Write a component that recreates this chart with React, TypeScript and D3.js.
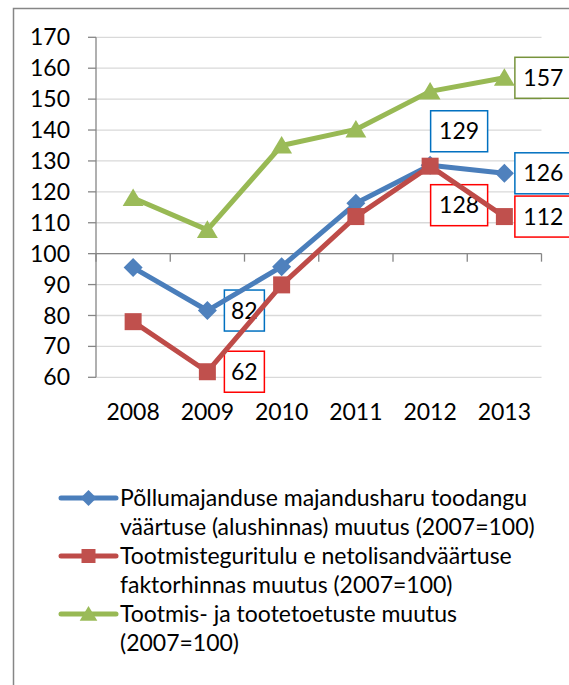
import React, { useEffect, useRef } from 'react';
import * as d3 from 'd3';

const years = ['2008', '2009', '2010', '2011', '2012', '2013'];
const yTicks = [60, 70, 80, 90, 100, 110, 120, 130, 140, 150, 160, 170];

const outputValue = [95.5, 81.6, 95.8, 116.3, 128.6, 126];
const factorIncome = [78, 61.8, 89.9, 112, 128.3, 112];
const subsidies = [118, 107.7, 135, 140.2, 152.5, 156.9];

const legendLines = [
    ['Põllumajanduse majandusharu toodangu', 'väärtuse (alushinnas) muutus (2007=100)'],
    ['Tootmisteguritulu e netolisandväärtuse', 'faktorhinnas muutus (2007=100)'],
    ['Tootmis- ja tootetoetuste muutus', '(2007=100)'],
];

// which points get a boxed value label: series index, year index, offset of box centre
const pointLabels = [
    { s: 0, i: 1, dx: 37, dy: 0 },
    { s: 1, i: 1, dx: 37, dy: 0 },
    { s: 0, i: 4, dx: 29, dy: -34 },
    { s: 1, i: 4, dx: 29, dy: 39 },
    { s: 0, i: 5, dx: 39, dy: 0 },
    { s: 1, i: 5, dx: 39, dy: 0 },
    { s: 2, i: 5, dx: 39, dy: 0 },
];

const series = [
    { values: outputValue, line: '#4A7EBB', fill: '#4F81BD', marker: 'diamond', box: '#0070C0' },
    { values: factorIncome, line: '#BE4B48', fill: '#C0504D', marker: 'square', box: '#FF0000' },
    { values: subsidies, line: '#98B954', fill: '#9BBB59', marker: 'triangle', box: '#77933C' },
];

const FONT = 'Lato, "Open Sans", sans-serif';

function markerPath(type: string, r: number) {
    if (type === 'diamond') return `M0,${-r}L${r},0L0,${r}L${-r},0Z`;
    if (type === 'square') return `M${-r},${-r}H${r}V${r}H${-r}Z`;
    return `M0,${-r}L${r * 1.1},${r * 0.85}H${-r * 1.1}Z`;
}

export default function App() {
    const svgRef = useRef<SVGSVGElement>(null);

    useEffect(() => {
        const svg = d3.select(svgRef.current);
        svg.selectAll('*').remove();

        const x = d3.scaleBand().domain(years).range([96, 541.5]);
        const y = d3.scaleLinear().domain([60, 170]).range([377.3, 37.3]);
        const cx = (i: number) => (x(years[i]) as number) + x.bandwidth() / 2;

        svg.append('rect').attr('width', 569).attr('height', 685).attr('fill', '#fff');
        svg.append('rect')
            .attr('x', 13.5).attr('y', 8.5).attr('width', 700).attr('height', 800)
            .attr('fill', 'none').attr('stroke', '#868686').attr('stroke-width', 1.5);

        // gridlines
        svg.append('g').selectAll('line').data(yTicks).enter().append('line')
            .attr('x1', 96).attr('x2', 541.5)
            .attr('y1', (d) => y(d)).attr('y2', (d) => y(d))
            .attr('stroke', '#D9D9D9').attr('stroke-width', 1.3);

        // y axis
        const ya = svg.append('g');
        ya.append('line').attr('x1', 96).attr('x2', 96).attr('y1', y(170)).attr('y2', y(60))
            .attr('stroke', '#868686').attr('stroke-width', 1.3);
        ya.selectAll('.tk').data(yTicks).enter().append('line')
            .attr('x1', 88).attr('x2', 96).attr('y1', (d) => y(d)).attr('y2', (d) => y(d))
            .attr('stroke', '#868686').attr('stroke-width', 1.3);
        ya.selectAll('text').data(yTicks).enter().append('text')
            .attr('x', 70).attr('y', (d) => y(d)).attr('dy', '0.35em')
            .attr('text-anchor', 'end')
            .style('font-family', FONT).style('font-size', '23px')
            .text((d) => d);

        // x axis crosses at 100
        const xa = svg.append('g');
        xa.append('line').attr('x1', 96).attr('x2', 541.5).attr('y1', y(100)).attr('y2', y(100))
            .attr('stroke', '#868686').attr('stroke-width', 1.3);
        const bounds = years.map((yr) => x(yr) as number).concat([541.5]);
        xa.selectAll('.tk').data(bounds).enter().append('line')
            .attr('x1', (d) => d).attr('x2', (d) => d)
            .attr('y1', y(100)).attr('y2', y(100) + 8)
            .attr('stroke', '#868686').attr('stroke-width', 1.3);
        xa.selectAll('text').data(years).enter().append('text')
            .attr('x', (d, i) => cx(i)).attr('y', 412).attr('dy', '0.35em')
            .attr('text-anchor', 'middle')
            .style('font-family', FONT).style('font-size', '23px')
            .text((d) => d);

        // value labels (the lines run over them in the original)
        pointLabels.forEach((p) => {
            const s = series[p.s];
            const v = s.values[p.i];
            const txt = String(Math.round(v));
            const w = txt.length === 2 ? 40 : 57;
            const bx = cx(p.i) + p.dx;
            const by = y(v) + p.dy;
            svg.append('rect')
                .attr('x', bx - w / 2).attr('y', by - 20.5).attr('width', w).attr('height', 41)
                .attr('fill', '#fff').attr('stroke', s.box).attr('stroke-width', 1.5);
            svg.append('text')
                .attr('x', bx).attr('y', by).attr('dy', '0.35em').attr('text-anchor', 'middle')
                .style('font-family', FONT).style('font-size', '23px')
                .text(txt);
        });

        // series
        const line = d3.line<number>().x((d, i) => cx(i)).y((d) => y(d));
        series.forEach((s) => {
            svg.append('path').attr('d', line(s.values))
                .attr('fill', 'none').attr('stroke', s.line).attr('stroke-width', 5)
                .attr('stroke-linejoin', 'round');
            svg.append('g').selectAll('path').data(s.values).enter().append('path')
                .attr('transform', (d, i) => `translate(${cx(i)},${y(d)})`)
                .attr('d', markerPath(s.marker, s.marker === 'square' ? 8.5 : 9.5))
                .attr('fill', s.fill);
        });

        // legend
        const legendY = [498, 556, 614];
        series.forEach((s, k) => {
            const ly = legendY[k];
            svg.append('line').attr('x1', 61).attr('x2', 116).attr('y1', ly).attr('y2', ly)
                .attr('stroke', s.line).attr('stroke-width', 5).attr('stroke-linecap', 'round');
            svg.append('path').attr('transform', `translate(88.5,${ly})`)
                .attr('d', markerPath(s.marker, s.marker === 'square' ? 7 : 8))
                .attr('fill', s.fill);
            legendLines[k].forEach((t, j) => {
                svg.append('text')
                    .attr('x', 120).attr('y', ly + j * 28.5).attr('dy', '0.35em')
                    .style('font-family', FONT).style('font-size', '23px')
                    .text(t);
            });
        });
    }, []);

    return (
        <svg ref={svgRef} width={569} height={685}
            style={{ position: 'absolute', left: 0, top: 0, display: 'block' }} />
    );
}
